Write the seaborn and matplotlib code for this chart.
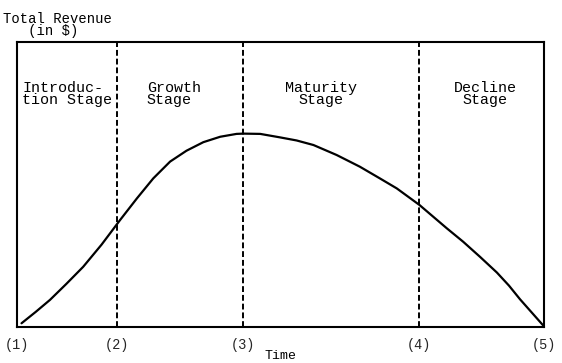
import matplotlib
matplotlib.use("Agg")
import matplotlib.pyplot as plt
import seaborn as sns
import pandas as pd

# ---- data ----
curve_x = [0.8, 3.5, 6.2, 9.3, 12.5, 16.0, 19.5, 22.7, 25.8, 29.0, 32.1, 35.3,
           38.5, 41.6, 42.9, 46.1, 49.8, 53.0, 56.2, 60.6, 65.0, 68.8, 72.0,
           76.3, 81.5, 84.6, 87.8, 91.0, 93.3, 95.4, 100.0]
curve_y = [1.2, 5.2, 9.4, 15.0, 21.0, 28.8, 37.4, 45.0, 52.0, 57.9, 61.7, 64.7,
           66.6, 67.6, 67.7, 67.6, 66.4, 65.3, 63.7, 60.2, 56.1, 52.0, 48.5,
           42.7, 34.5, 29.8, 24.5, 19.0, 14.4, 9.6, 0.0]
tick_pos = [0.0, 18.9, 42.8, 76.2, 100.0]
tick_labels = ["(1)", "(2)", "(3)", "(4)", "(5)"]
boundaries = [18.9, 42.8, 76.2]
stage_labels = ["Introduc-\ntion Stage", "Growth\nStage", "Maturity\nStage", "Decline\nStage"]
stage_x = [0.9, 24.6, 57.6, 88.8]
stage_ha = ["left", "left", "center", "center"]
y_title = "Total Revenue\n   (in $)"
x_title = "Time"

sns.set_style("white")
plt.rcParams["font.family"] = ["Liberation Mono", "DejaVu Sans Mono"]

fig = plt.figure(figsize=(5.62, 3.63), dpi=100)
ax = fig.add_axes([17.3 / 562, 1 - 326.7 / 363, (544.3 - 17.3) / 562, (326.7 - 41.5) / 363])

df = pd.DataFrame({"x": curve_x, "y": curve_y})
sns.lineplot(data=df, x="x", y="y", ax=ax, color="black", linewidth=1.6, sort=False)

for b in boundaries:
    ax.axvline(b, color="black", linewidth=1.4, linestyle=(0, (3, 1.5)))

for lab, sx, ha in zip(stage_labels, stage_x, stage_ha):
    ax.text(sx, 81.5, lab, ha=ha, va="center", fontsize=10.8, linespacing=0.8, color="black")

ax.set_xlim(0, 100)
ax.set_ylim(0, 100)
ax.set_xticks(tick_pos)
ax.set_xticklabels(tick_labels, fontsize=9.8)
ax.set_yticks([])
ax.tick_params(axis="x", length=0, pad=8)
ax.set_xlabel("")
ax.set_ylabel("")
for s in ax.spines.values():
    s.set_visible(True)
    s.set_color("black")
    s.set_linewidth(1.5)

fig.text(3 / 562, 1 - 25 / 363, y_title, ha="left", va="center", fontsize=10,
         linespacing=0.85, color="black")
fig.text(280 / 562, 1 - 356 / 363, x_title, ha="center", va="center", fontsize=9.5, color="black")

fig.savefig("out.png", dpi=100, facecolor="white")
